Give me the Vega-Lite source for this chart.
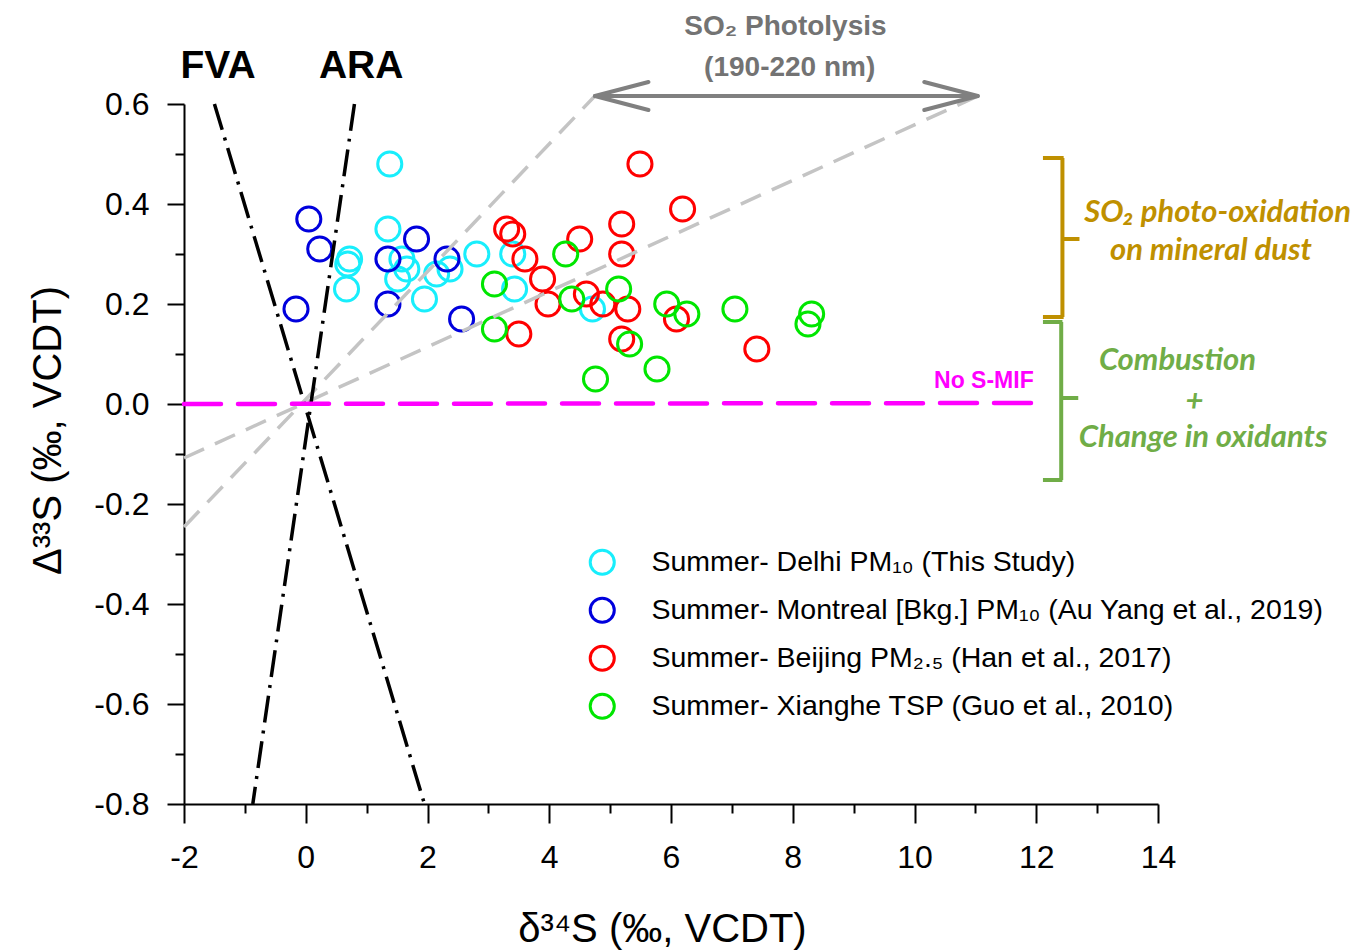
{
  "$schema": "https://vega.github.io/schema/vega-lite/v6.json",
  "width": 974,
  "height": 700,
  "autosize": {"type": "none"},
  "padding": {"left": 184, "top": 104, "right": 204, "bottom": 147},
  "background": "white",
  "config": {
    "view": {"stroke": null},
    "font": "Liberation Sans",
    "axis": {
      "grid": false,
      "domainColor": "black",
      "domainWidth": 2,
      "tickColor": "black",
      "tickWidth": 2,
      "labelColor": "black",
      "labelFont": "Liberation Sans",
      "labelFontSize": 32,
      "labelFlush": false,
      "labelOverlap": false,
      "titleFont": "Liberation Sans",
      "titleFontSize": 40,
      "titleFontWeight": "normal",
      "titleColor": "black"
    },
    "legend": {
      "orient": "none",
      "legendX": 404,
      "legendY": 444,
      "title": null,
      "labelFont": "Liberation Sans",
      "labelFontSize": 28.5,
      "labelColor": "black",
      "labelLimit": 0,
      "labelOffset": 35,
      "rowPadding": 11,
      "symbolSize": 580,
      "symbolStrokeWidth": 3,
      "symbolType": "circle"
    }
  },
  "datasets": {
    "samples": [
      {"series": "Delhi", "d34S": 1.38, "D33S": 0.48},
      {"series": "Delhi", "d34S": 1.35, "D33S": 0.35},
      {"series": "Delhi", "d34S": 0.72, "D33S": 0.29},
      {"series": "Delhi", "d34S": 0.69, "D33S": 0.28},
      {"series": "Delhi", "d34S": 0.67, "D33S": 0.23},
      {"series": "Delhi", "d34S": 1.58, "D33S": 0.29},
      {"series": "Delhi", "d34S": 1.66, "D33S": 0.27},
      {"series": "Delhi", "d34S": 1.51, "D33S": 0.25},
      {"series": "Delhi", "d34S": 1.95, "D33S": 0.21},
      {"series": "Delhi", "d34S": 2.15, "D33S": 0.26},
      {"series": "Delhi", "d34S": 2.37, "D33S": 0.27},
      {"series": "Delhi", "d34S": 2.81, "D33S": 0.30},
      {"series": "Delhi", "d34S": 3.40, "D33S": 0.30},
      {"series": "Delhi", "d34S": 3.43, "D33S": 0.23},
      {"series": "Delhi", "d34S": 4.71, "D33S": 0.19},
      {"series": "Montreal", "d34S": 0.05, "D33S": 0.37},
      {"series": "Montreal", "d34S": 0.23, "D33S": 0.31},
      {"series": "Montreal", "d34S": -0.16, "D33S": 0.19},
      {"series": "Montreal", "d34S": 1.35, "D33S": 0.29},
      {"series": "Montreal", "d34S": 1.82, "D33S": 0.33},
      {"series": "Montreal", "d34S": 2.32, "D33S": 0.29},
      {"series": "Montreal", "d34S": 1.35, "D33S": 0.20},
      {"series": "Montreal", "d34S": 2.56, "D33S": 0.17},
      {"series": "Beijing", "d34S": 5.49, "D33S": 0.48},
      {"series": "Beijing", "d34S": 6.19, "D33S": 0.39},
      {"series": "Beijing", "d34S": 3.30, "D33S": 0.35},
      {"series": "Beijing", "d34S": 3.40, "D33S": 0.34},
      {"series": "Beijing", "d34S": 3.60, "D33S": 0.29},
      {"series": "Beijing", "d34S": 3.89, "D33S": 0.25},
      {"series": "Beijing", "d34S": 3.98, "D33S": 0.20},
      {"series": "Beijing", "d34S": 4.50, "D33S": 0.33},
      {"series": "Beijing", "d34S": 5.19, "D33S": 0.36},
      {"series": "Beijing", "d34S": 5.19, "D33S": 0.30},
      {"series": "Beijing", "d34S": 4.61, "D33S": 0.22},
      {"series": "Beijing", "d34S": 4.88, "D33S": 0.20},
      {"series": "Beijing", "d34S": 5.29, "D33S": 0.19},
      {"series": "Beijing", "d34S": 5.19, "D33S": 0.13},
      {"series": "Beijing", "d34S": 3.50, "D33S": 0.14},
      {"series": "Beijing", "d34S": 6.09, "D33S": 0.17},
      {"series": "Beijing", "d34S": 7.41, "D33S": 0.11},
      {"series": "Xianghe", "d34S": 3.10, "D33S": 0.24},
      {"series": "Xianghe", "d34S": 3.10, "D33S": 0.15},
      {"series": "Xianghe", "d34S": 4.27, "D33S": 0.30},
      {"series": "Xianghe", "d34S": 4.37, "D33S": 0.21},
      {"series": "Xianghe", "d34S": 5.14, "D33S": 0.23},
      {"series": "Xianghe", "d34S": 5.32, "D33S": 0.12},
      {"series": "Xianghe", "d34S": 4.76, "D33S": 0.05},
      {"series": "Xianghe", "d34S": 5.77, "D33S": 0.07},
      {"series": "Xianghe", "d34S": 5.93, "D33S": 0.20},
      {"series": "Xianghe", "d34S": 6.26, "D33S": 0.18},
      {"series": "Xianghe", "d34S": 7.05, "D33S": 0.19},
      {"series": "Xianghe", "d34S": 8.31, "D33S": 0.18},
      {"series": "Xianghe", "d34S": 8.25, "D33S": 0.16}
    ],
    "one": [{}]
  },
  "data": {"name": "one"},
  "layer": [
    {
      "data": {"name": "samples"},
      "mark": {"type": "point", "shape": "circle", "filled": false, "strokeWidth": 3, "size": 580, "opacity": 1},
      "encoding": {
        "x": {
          "field": "d34S", "type": "quantitative",
          "scale": {"domain": [-2, 14], "nice": false, "zero": false},
          "axis": {
            "values": [-2, -1, 0, 1, 2, 3, 4, 5, 6, 7, 8, 9, 10, 11, 12, 13, 14],
            "labelExpr": "abs(datum.value) % 2 == 0 ? replace(format(datum.value, 'd'), '\u2212', '-') : ''",
            "tickSize": {"condition": {"test": "abs(datum.value) % 2 == 0", "value": 19}, "value": 9},
            "labelPadding": 19,
            "title": "δ³⁴S (‰, VCDT)",
            "titleX": 478,
            "titleY": 137,
            "titleBaseline": "alphabetic",
            "titleAlign": "center"
          }
        },
        "y": {
          "field": "D33S", "type": "quantitative",
          "scale": {"domain": [-0.8, 0.6], "nice": false, "zero": false},
          "axis": {
            "values": [-0.8, -0.7, -0.6, -0.5, -0.4, -0.3, -0.2, -0.1, 0, 0.1, 0.2, 0.3, 0.4, 0.5, 0.6],
            "labelExpr": "abs(round(datum.value * 10)) % 2 == 0 ? replace(format(datum.value, '.1f'), '\u2212', '-') : ''",
            "tickSize": {"condition": {"test": "abs(round(datum.value * 10)) % 2 == 0", "value": 17}, "value": 9},
            "labelPadding": 18,
            "title": "Δ³³S (‰, VCDT)",
            "titleX": -136,
            "titleY": 326,
            "titleAngle": -90,
            "titleAlign": "center",
            "titleBaseline": "middle"
          }
        },
        "color": {
          "field": "series", "type": "nominal",
          "scale": {
            "domain": ["Delhi", "Montreal", "Beijing", "Xianghe"],
            "range": ["#18eefc", "#0000dd", "#ff0000", "#00e600"]
          },
          "legend": {
            "labelExpr": "datum.value == 'Delhi' ? 'Summer- Delhi PM₁₀ (This Study)' : datum.value == 'Montreal' ? 'Summer- Montreal [Bkg.] PM₁₀ (Au Yang et al., 2019)' : datum.value == 'Beijing' ? 'Summer- Beijing PM₂.₅ (Han et al., 2017)' : 'Summer- Xianghe TSP (Guo et al., 2010)'"
          }
        }
      }
    },
    {
      "mark": {"type": "rule", "color": "#c4c4c4", "strokeWidth": 3.5, "strokeDash": [22, 12]},
      "encoding": {"x": {"datum": -2}, "y": {"datum": -0.246}, "x2": {"datum": 4.75}, "y2": {"datum": 0.616}}
    },
    {
      "mark": {"type": "rule", "color": "#c4c4c4", "strokeWidth": 3.5, "strokeDash": [22, 12]},
      "encoding": {"x": {"datum": -2}, "y": {"datum": -0.108}, "x2": {"datum": 11.04}, "y2": {"datum": 0.616}}
    },
    {
      "mark": {"type": "rule", "color": "black", "strokeWidth": 3.5, "strokeDash": [27, 8, 3, 8]},
      "encoding": {"x": {"datum": -1.5}, "y": {"datum": 0.6}, "x2": {"datum": 1.95}, "y2": {"datum": -0.8}}
    },
    {
      "mark": {"type": "rule", "color": "black", "strokeWidth": 3.5, "strokeDash": [27, 8, 3, 8]},
      "encoding": {"x": {"datum": 0.8}, "y": {"datum": 0.6}, "x2": {"datum": -0.87}, "y2": {"datum": -0.8}}
    },
    {
      "mark": {"type": "rule", "color": "#ff00ff", "strokeWidth": 4.5, "strokeDash": [37, 17], "strokeCap": "round"},
      "encoding": {"x": {"datum": -2}, "y": {"datum": 0}, "x2": {"datum": 12.0}, "y2": {"datum": 0.002}}
    },
    {
      "mark": {"type": "rule", "color": "#808080", "strokeWidth": 4},
      "encoding": {"x": {"datum": 4.75}, "y": {"datum": 0.616}, "x2": {"datum": 11.04}, "y2": {"datum": 0.616}}
    },
    {
      "mark": {"type": "rule", "color": "#808080", "strokeWidth": 4, "strokeCap": "round"},
      "encoding": {"x": {"datum": 4.75}, "y": {"datum": 0.616}, "x2": {"datum": 5.63}, "y2": {"datum": 0.644}}
    },
    {
      "mark": {"type": "rule", "color": "#808080", "strokeWidth": 4, "strokeCap": "round"},
      "encoding": {"x": {"datum": 4.75}, "y": {"datum": 0.616}, "x2": {"datum": 5.63}, "y2": {"datum": 0.588}}
    },
    {
      "mark": {"type": "rule", "color": "#808080", "strokeWidth": 4, "strokeCap": "round"},
      "encoding": {"x": {"datum": 11.04}, "y": {"datum": 0.616}, "x2": {"datum": 10.16}, "y2": {"datum": 0.644}}
    },
    {
      "mark": {"type": "rule", "color": "#808080", "strokeWidth": 4, "strokeCap": "round"},
      "encoding": {"x": {"datum": 11.04}, "y": {"datum": 0.616}, "x2": {"datum": 10.16}, "y2": {"datum": 0.588}}
    },
    {
      "mark": {"type": "rule", "color": "#bf9000", "strokeWidth": 4},
      "encoding": {"x": {"datum": 12.43}, "y": {"datum": 0.492}, "x2": {"datum": 12.43}, "y2": {"datum": 0.174}}
    },
    {
      "mark": {"type": "rule", "color": "#bf9000", "strokeWidth": 4},
      "encoding": {"x": {"datum": 12.11}, "y": {"datum": 0.492}, "x2": {"datum": 12.45}, "y2": {"datum": 0.492}}
    },
    {
      "mark": {"type": "rule", "color": "#bf9000", "strokeWidth": 4},
      "encoding": {"x": {"datum": 12.11}, "y": {"datum": 0.174}, "x2": {"datum": 12.45}, "y2": {"datum": 0.174}}
    },
    {
      "mark": {"type": "rule", "color": "#bf9000", "strokeWidth": 4},
      "encoding": {"x": {"datum": 12.43}, "y": {"datum": 0.33}, "x2": {"datum": 12.71}, "y2": {"datum": 0.33}}
    },
    {
      "mark": {"type": "rule", "color": "#70ad47", "strokeWidth": 4},
      "encoding": {"x": {"datum": 12.41}, "y": {"datum": 0.164}, "x2": {"datum": 12.41}, "y2": {"datum": -0.152}}
    },
    {
      "mark": {"type": "rule", "color": "#70ad47", "strokeWidth": 4},
      "encoding": {"x": {"datum": 12.11}, "y": {"datum": 0.164}, "x2": {"datum": 12.43}, "y2": {"datum": 0.164}}
    },
    {
      "mark": {"type": "rule", "color": "#70ad47", "strokeWidth": 4},
      "encoding": {"x": {"datum": 12.11}, "y": {"datum": -0.152}, "x2": {"datum": 12.43}, "y2": {"datum": -0.152}}
    },
    {
      "mark": {"type": "rule", "color": "#70ad47", "strokeWidth": 4},
      "encoding": {"x": {"datum": 12.41}, "y": {"datum": 0.012}, "x2": {"datum": 12.69}, "y2": {"datum": 0.012}}
    },
    {
      "mark": {"type": "text", "text": "FVA", "font": "Liberation Sans", "fontWeight": "bold", "fontSize": 39, "fill": "black", "align": "center", "baseline": "alphabetic"},
      "encoding": {"x": {"datum": -1.44}, "y": {"datum": 0.652}}
    },
    {
      "mark": {"type": "text", "text": "ARA", "font": "Liberation Sans", "fontWeight": "bold", "fontSize": 39, "fill": "black", "align": "center", "baseline": "alphabetic"},
      "encoding": {"x": {"datum": 0.91}, "y": {"datum": 0.652}}
    },
    {
      "mark": {"type": "text", "text": "SO₂ Photolysis", "font": "Liberation Sans", "fontWeight": "bold", "fontSize": 28, "fill": "#737373", "align": "center", "baseline": "alphabetic"},
      "encoding": {"x": {"datum": 7.88}, "y": {"datum": 0.738}}
    },
    {
      "mark": {"type": "text", "text": "(190-220 nm)", "font": "Liberation Sans", "fontWeight": "bold", "fontSize": 28, "fill": "#737373", "align": "center", "baseline": "alphabetic"},
      "encoding": {"x": {"datum": 7.95}, "y": {"datum": 0.656}}
    },
    {
      "mark": {"type": "text", "text": "No S-MIF", "font": "Liberation Sans", "fontWeight": "bold", "fontSize": 23, "fill": "#ff00ff", "align": "center", "baseline": "alphabetic"},
      "encoding": {"x": {"datum": 11.14}, "y": {"datum": 0.032}}
    },
    {
      "mark": {"type": "text", "text": "SO₂ photo-oxidation", "font": "Lato", "fontWeight": "bold", "fontStyle": "italic", "fontSize": 31, "fill": "#bf9000", "align": "center", "baseline": "alphabetic"},
      "encoding": {"x": {"datum": 14.98}, "y": {"datum": 0.364}}
    },
    {
      "mark": {"type": "text", "text": "on mineral dust", "font": "Lato", "fontWeight": "bold", "fontStyle": "italic", "fontSize": 31, "fill": "#bf9000", "align": "center", "baseline": "alphabetic"},
      "encoding": {"x": {"datum": 14.87}, "y": {"datum": 0.288}}
    },
    {
      "mark": {"type": "text", "text": "Combustion", "font": "Lato", "fontWeight": "bold", "fontStyle": "italic", "fontSize": 31, "fill": "#70ad47", "align": "center", "baseline": "alphabetic"},
      "encoding": {"x": {"datum": 14.32}, "y": {"datum": 0.068}}
    },
    {
      "mark": {"type": "text", "text": "+", "font": "Lato", "fontWeight": "bold", "fontStyle": "italic", "fontSize": 31, "fill": "#70ad47", "align": "center", "baseline": "middle"},
      "encoding": {"x": {"datum": 14.6}, "y": {"datum": 0.004}}
    },
    {
      "mark": {"type": "text", "text": "Change in oxidants", "font": "Lato", "fontWeight": "bold", "fontStyle": "italic", "fontSize": 31, "fill": "#70ad47", "align": "center", "baseline": "alphabetic"},
      "encoding": {"x": {"datum": 14.74}, "y": {"datum": -0.086}}
    }
  ]
}
